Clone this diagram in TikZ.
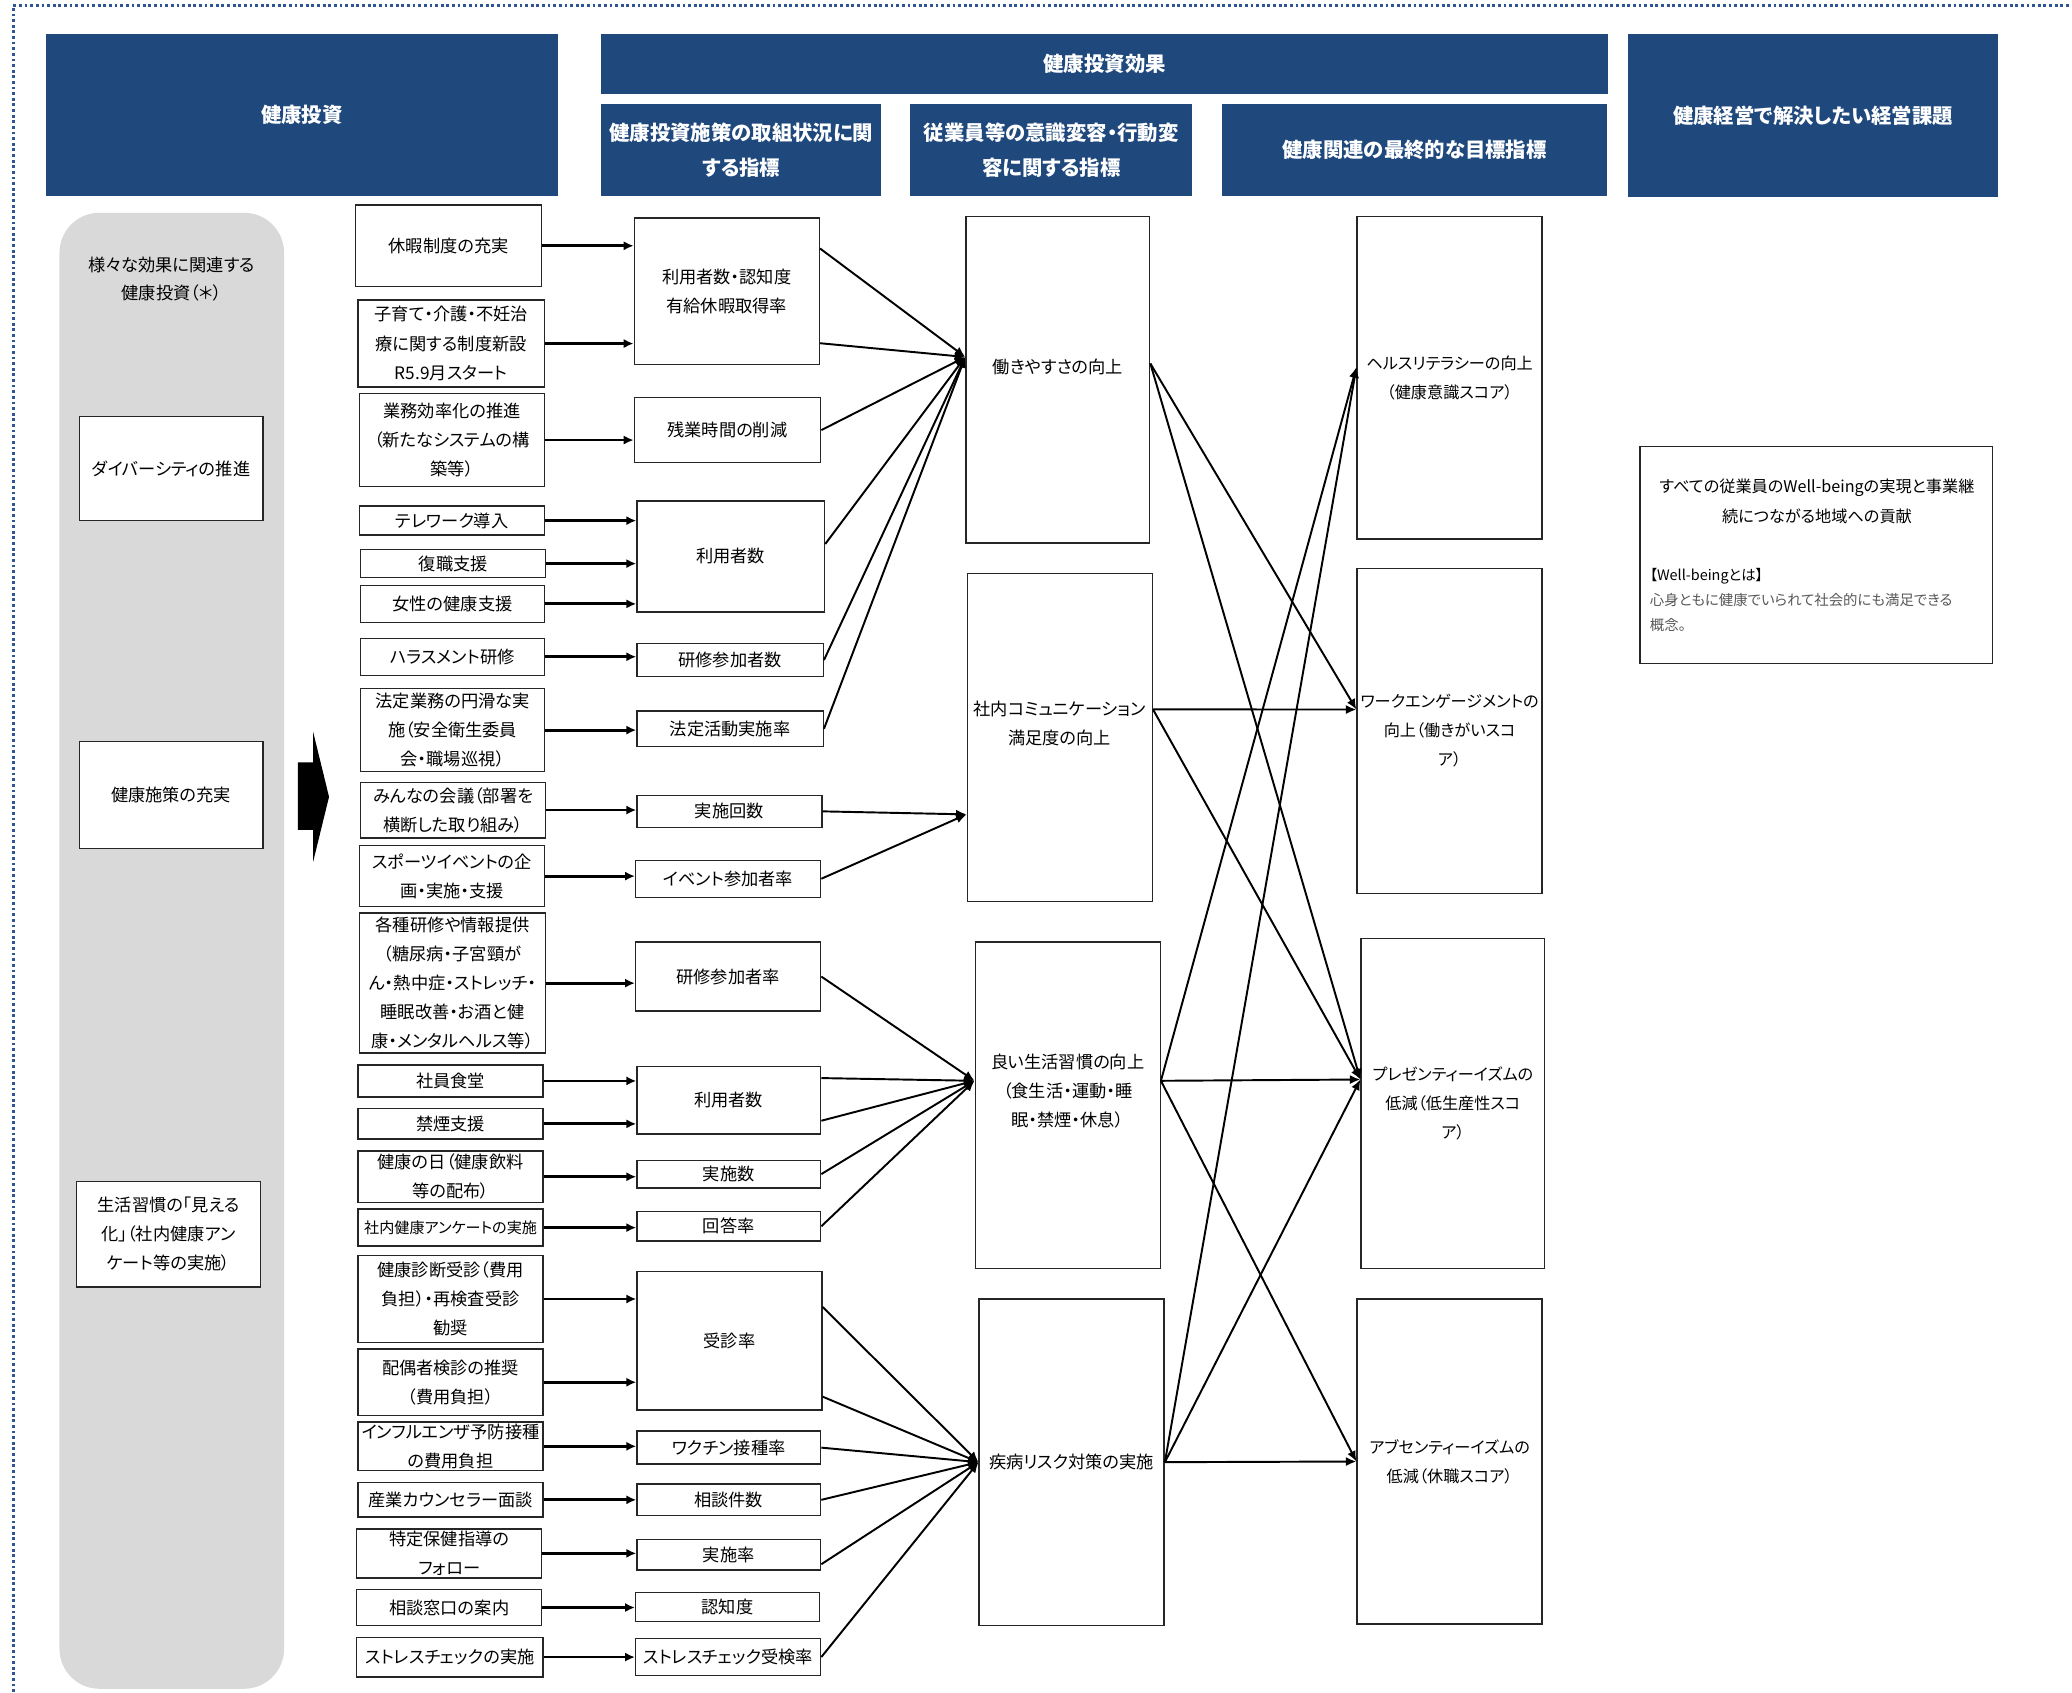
\documentclass[tikz,border=0pt]{standalone}
\usepackage{fontspec}
\setmainfont{Noto Sans CJK JP}[RawFeature=+palt]
\usetikzlibrary{calc,arrows.meta}
\definecolor{hdblue}{HTML}{1F497D}
\definecolor{panel}{HTML}{D9D9D9}
\definecolor{frame}{HTML}{2F5597}
\definecolor{notegray}{HTML}{595959}

\begin{document}
\begin{tikzpicture}[x=0.013214cm,y=-0.013214cm,
  box/.style={draw=black!85,line width=0.4pt,fill=white,align=center,inner sep=0pt,
    font=\fontsize{4.9}{8.3}\selectfont},
  boxtext/.style={align=center,inner sep=0pt,font=\fontsize{4.9}{8.3}\selectfont},
  hdr/.style={fill=hdblue,text=white,align=center,inner sep=0pt,
    font=\fontsize{5.8}{9.8}\selectfont\bfseries},
  arr/.style={line width=0.8pt,-{Latex[length=2.8pt,width=2.6pt]}},
  link/.style={line width=0.55pt,-{Latex[length=3pt,width=2.6pt]}}]

\def\px{0.013214cm}
\newcommand{\cbox}[7][box] % [style]{name}{x1}{y1}{x2}{y2}{text}
{
 \node[#1,minimum width={(#5-#3)*\px},minimum height={(#6-#4)*\px}]
   (#2) at ({(#3+#5)/2},{(#4+#6)/2}) {#7};
}
\newcommand{\port}[4] % {name}{node}{side}{frac}
{
 \coordinate (#1) at ($(#2.north #3)!#4!(#2.south #3)$);
}

\useasboundingbox (0,0) rectangle (1568,1280.5);
\draw[frame,line width=0.9pt,dash pattern=on 0.8pt off 0.8pt]
  (10,1280.5) -- (10,4) -- (1568,4);

% headers
\cbox[hdr]{hinv}{35}{26}{422}{148}{健康投資}
\cbox[hdr]{heff}{455}{26}{1217}{71}{健康投資効果}
\cbox[hdr]{hact}{455}{79}{667}{148}{健康投資施策の取組状況に関\\する指標}
\cbox[hdr]{hbeh}{689}{79}{902}{148}{従業員等の意識変容・行動変\\容に関する指標}
\cbox[hdr]{hgoal}{925}{79}{1216}{148}{健康関連の最終的な目標指標}
\cbox[hdr]{hiss}{1232}{26}{1512}{149}{健康経営で解決したい経営課題}

% left panel
\fill[panel,rounded corners=0.4cm] (45,161) rectangle (215,1278);
\node[align=center,font=\fontsize{4.9}{8}\selectfont] (pnote) at (130,211)
  {様々な効果に関連する\\健康投資（＊）};
\cbox{div}{60}{315}{199}{394}{ダイバーシティの推進}
\cbox{pol}{60}{561}{199}{642}{健康施策の充実}
\cbox{vis}{58}{894}{197}{974}{生活習慣の「見える\\化」（社内健康アン\\ケート等の実施）}
\fill (225.5,577) -- (237,577) -- (237,554) -- (249,603)
  -- (237,652) -- (237,628) -- (225.5,628) -- cycle;

% investments
\cbox{n1}{269}{155}{410}{217}{休暇制度の充実}
\cbox{n2}{271}{227}{412}{293}{子育て・介護・不妊治\\療に関する制度新設\\R5.9月スタート}
\cbox{n3}{272}{298}{412}{368}{業務効率化の推進\\（新たなシステムの構\\築等）}
\cbox{n4}{272}{383}{412}{405}{テレワーク導入}
\cbox{n5}{273}{416}{413}{437}{復職支援}
\cbox{n6}{273}{443}{412}{471}{女性の健康支援}
\cbox{n7}{273}{483}{412}{511}{ハラスメント研修}
\cbox{n8}{273}{521}{412}{584}{法定業務の円滑な実\\施（安全衛生委員\\会・職場巡視）}
\cbox{n9}{273}{592}{413}{634}{みんなの会議（部署を\\横断した取り組み）}
\cbox{n10}{272}{640}{412}{686}{スポーツイベントの企\\画・実施・支援}
\cbox{n11}{272}{691}{413}{797}{各種研修や情報提供\\（糖尿病・子宮頸が\\ん・熱中症・ストレッチ・\\睡眠改善・お酒と健\\康・メンタルヘルス等）}
\cbox{n12}{271}{806}{411}{830}{社員食堂}
\cbox{n13}{271}{839}{411}{862}{禁煙支援}
\cbox{n14}{271}{871}{411}{910}{健康の日（健康飲料\\等の配布）}
\cbox[box,font=\fontsize{4.3}{7}\selectfont]{n15}{271}{915}{411}{943}{社内健康アンケートの実施}
\cbox{n16}{271}{950}{411}{1016}{健康診断受診（費用\\負担）・再検査受診\\勧奨}
\cbox{n17}{271}{1021}{411}{1071}{配偶者検診の推奨\\（費用負担）}
\cbox{n18}{271}{1076}{411}{1113}{インフルエンザ予防接種\\の費用負担}
\cbox{n19}{271}{1122}{411}{1148}{産業カウンセラー面談}
\cbox{n20}{270}{1157}{410}{1194}{特定保健指導の\\フォロー}
\cbox{n21}{270}{1203}{410}{1230}{相談窓口の案内}
\cbox{n22}{270}{1239}{411}{1269}{ストレスチェックの実施}

% indicators
\cbox{a}{480}{165}{620}{276}{利用者数・認知度\\有給休暇取得率}
\cbox{b}{480}{301}{621}{350}{残業時間の削減}
\cbox{c}{482}{379}{624}{463}{利用者数}
\cbox{d}{482}{487}{623}{512}{研修参加者数}
\cbox{e}{482}{538}{623}{565}{法定活動実施率}
\cbox{f}{482}{602}{622}{626}{実施回数}
\cbox{g}{481}{651}{621}{679}{イベント参加者率}
\cbox{h}{481}{713}{621}{765}{研修参加者率}
\cbox{i}{482}{807}{621}{858}{利用者数}
\cbox{j}{482}{878}{621}{899}{実施数}
\cbox{k}{482}{917}{621}{939}{回答率}
\cbox{l}{482}{962}{622}{1067}{受診率}
\cbox{m}{482}{1083}{621}{1108}{ワクチン接種率}
\cbox{n}{482}{1123}{621}{1147}{相談件数}
\cbox{o}{482}{1165}{621}{1188}{実施率}
\cbox{p}{481}{1205}{620}{1227}{認知度}
\cbox{q}{481}{1240}{621}{1268}{ストレスチェック受検率}

% behaviour
\cbox{A}{731}{164}{870}{411}{}
\cbox{B}{732}{434}{872}{682}{}
\cbox{C}{738}{713}{878}{960}{}
\cbox{D}{741}{983}{881}{1230}{疾病リスク対策の実施}
\node[boxtext] (Atx) at ($(A.center)+(0,-9.5)$) {働きやすさの向上};
\node[boxtext] (Btx) at ($(B.center)+(0,-10.5)$) {社内コミュニケーション\\満足度の向上};
\node[boxtext] (Ctx) at ($(C.center)+(0,-11)$) {良い生活習慣の向上\\（食生活・運動・睡\\眠・禁煙・休息）};

% goals
\cbox[box,font=\fontsize{4.6}{8.3}\selectfont]{E}{1027}{164}{1167}{408}{ヘルスリテラシーの向上\\（健康意識スコア）}
\cbox[box,font=\fontsize{4.6}{8.3}\selectfont]{F}{1027}{430}{1167}{676}{ワークエンゲージメントの\\向上（働きがいスコ\\ア）}
\cbox[box,font=\fontsize{4.6}{8.3}\selectfont]{G}{1030}{710}{1169}{960}{プレゼンティーイズムの\\低減（低生産性スコ\\ア）}
\cbox[box,font=\fontsize{4.6}{8.3}\selectfont]{H}{1027}{983}{1167}{1229}{アブセンティーイズムの\\低減（休職スコア）}

% issue
\cbox{wb}{1241}{338}{1508}{502}{}
\node[align=center,font=\fontsize{4.6}{8.7}\selectfont] (wbmain) at (1375,379.5)
  {すべての従業員のWell-beingの実現と事業継\\続につながる地域への貢献};
\node[anchor=west,align=left,inner sep=0pt,font=\fontsize{4.1}{7.2}\selectfont] (wbnote) at (1248,454)
  {【Well-beingとは】\\\textcolor{notegray}{心身ともに健康でいられて社会的にも満足できる}\\\textcolor{notegray}{概念。}};

% investments -> indicators
\foreach \s/\t in {n1/a,n2/a,n3/b,n4/c,n5/c,n6/c,n7/d,n8/e,n9/f,n10/g,n11/h,
  n12/i,n13/i,n14/j,n15/k,n16/l,n17/l,n18/m,n19/n,n20/o,n21/p,n22/q}
  \draw[arr] (\s.east) -- (\s.east -| \t.west);

% indicators -> behaviour
\port{a1}{a}{east}{.21} \port{a2}{a}{east}{.85} \port{c1}{c}{east}{.39}
\port{i1}{i}{east}{.18} \port{i2}{i}{east}{.80}
\port{l1}{l}{east}{.26} \port{l2}{l}{east}{.90} \port{o1}{o}{east}{.80}
\port{Ain}{A}{west}{.43} \port{Bin}{B}{west}{.734} \port{Cin}{C}{west}{.425}
\foreach \s in {a1,a2,b.east,c1,d.east,e.east} \draw[link] (\s) -- (Ain);
\foreach \s in {f.east,g.east} \draw[link] (\s) -- (Bin);
\foreach \s in {h.east,i1,i2,j.east,k.east} \draw[link] (\s) -- (Cin);
\foreach \s in {l1,l2,m.east,n.east,o1,q.east} \draw[link] (\s) -- (D.west);

% behaviour -> goals
\port{Aout}{A}{east}{.45} \port{Bout}{B}{east}{.415} \port{Cout}{C}{east}{.425}
\port{Ein}{E}{west}{.467} \port{Fin}{F}{west}{.435} \port{Gin}{G}{west}{.428}
\foreach \s/\t in {Aout/Fin,Aout/Gin,Bout/Fin,Bout/Gin,Cout/Ein,Cout/Gin,
  Cout/H.west,D.east/Ein,D.east/Gin,D.east/H.west}
  \draw[link] (\s) -- (\t);

\end{tikzpicture}
\end{document}
